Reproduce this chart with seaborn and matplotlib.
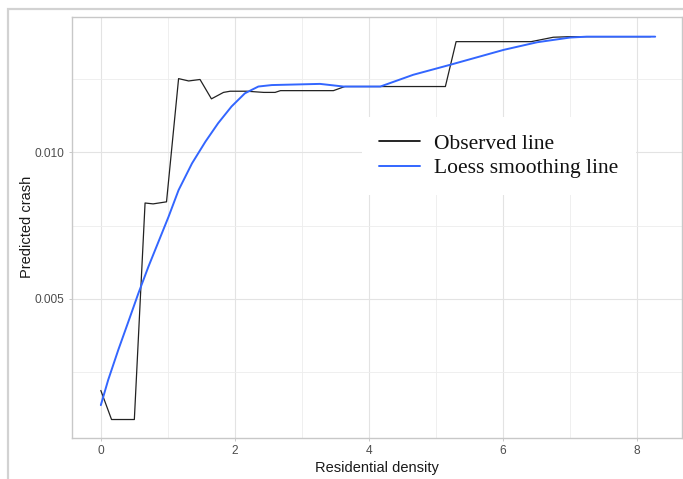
import matplotlib
matplotlib.use("Agg")
import matplotlib.pyplot as plt
from matplotlib.ticker import MultipleLocator, FormatStrFormatter
from matplotlib.patches import Rectangle
import numpy as np
import pandas as pd
import seaborn as sns

# Observed predicted-crash curve against residential density
observed_x = [0.00, 0.16, 0.50, 0.66, 0.78, 0.98, 1.16, 1.31, 1.48, 1.65, 1.83,
              1.93, 2.18, 2.43, 2.60, 2.68, 3.47, 3.64, 5.14, 5.30, 6.42, 6.75,
              7.00, 8.20]
observed_y = [0.00188, 0.00089, 0.00089, 0.00827, 0.00824, 0.00831, 0.01251,
              0.01243, 0.01248, 0.01182, 0.01204, 0.01208, 0.01208, 0.01204,
              0.01204, 0.01210, 0.01210, 0.01224, 0.01224, 0.01377, 0.01377,
              0.01392, 0.01394, 0.01394]

# Loess smoothed curve
loess_x = [0.00, 0.11, 0.26, 0.41, 0.56, 0.71, 0.86, 1.01, 1.16, 1.36, 1.56,
           1.75, 1.95, 2.15, 2.35, 2.55, 3.27, 3.62, 4.17, 4.66, 5.21, 6.01,
           6.51, 7.00, 7.25, 8.27]
loess_y = [0.00138, 0.00224, 0.00326, 0.00422, 0.00519, 0.00610, 0.00695,
           0.00780, 0.00871, 0.00962, 0.01036, 0.01099, 0.01156, 0.01201,
           0.01224, 0.01229, 0.01233, 0.01224, 0.01224, 0.01264, 0.01298,
           0.01349, 0.01375, 0.01391, 0.01394, 0.01394]

series_names = ["Observed line", "Loess smoothing line"]
series_colors = ["black", "#3366FF"]

x_ticks = [0, 2, 4, 6, 8]

df = pd.concat([
    pd.DataFrame({"x": observed_x, "y": observed_y, "series": series_names[0]}),
    pd.DataFrame({"x": loess_x, "y": loess_y, "series": series_names[1]}),
], ignore_index=True)

sns.set_theme(style="white")
plt.rcParams["font.family"] = ["Liberation Sans", "DejaVu Sans"]

fig = plt.figure(figsize=(6.83, 4.79), dpi=100)
ax = fig.add_axes([72 / 683, 1 - 437.5 / 479, 610 / 683, 420.5 / 479])

sns.lineplot(data=df, x="x", y="y", hue="series", hue_order=series_names,
             palette=dict(zip(series_names, series_colors)), sort=False,
             estimator=None, ax=ax, legend=False)
lines = ax.get_lines()
lines[0].set_linewidth(0.9)
lines[0].set_color("#222222")
lines[1].set_linewidth(1.4)
lines[1].set_solid_joinstyle("round")

ax.set_xlim(-0.43, 8.67)
ax.set_ylim(0.000277, 0.01461)

ax.xaxis.set_major_locator(plt.FixedLocator(x_ticks))
ax.xaxis.set_minor_locator(MultipleLocator(1))
ax.yaxis.set_major_locator(MultipleLocator(0.005))
ax.yaxis.set_minor_locator(MultipleLocator(0.0025))
ax.yaxis.set_major_formatter(FormatStrFormatter("%.3f"))

ax.grid(True, which="major", color="#E3E3E3", linewidth=0.8)
ax.grid(True, which="minor", color="#EDEDED", linewidth=0.6)
ax.set_axisbelow(True)

for sp in ax.spines.values():
    sp.set_color("#C8C8C8")
    sp.set_linewidth(1.0)

ax.tick_params(which="major", length=2.2, width=0.7, color="#C8C8C8",
               labelsize=8.6, labelcolor="#4D4D4D", pad=3.2,
               bottom=True, left=True)
ax.tick_params(which="minor", length=0)

ax.set_xlabel("Residential density", fontsize=10.5, color="#1A1A1A", labelpad=3)
ax.set_ylabel("Predicted crash", fontsize=10.5, color="#1A1A1A", labelpad=0.5)

handles = [plt.Line2D([], [], color=series_colors[0], linewidth=1.2),
           plt.Line2D([], [], color=series_colors[1], linewidth=1.4)]
leg = ax.legend(handles, series_names, loc="center",
                bbox_to_anchor=((499 - 72) / 610, (437.5 - 156) / 420.5),
                prop={"family": "Liberation Serif", "size": 15.5},
                frameon=True, facecolor="white", edgecolor="none",
                framealpha=1.0, fancybox=False, handlelength=1.9,
                handletextpad=0.65, borderpad=0.8, labelspacing=0.2)
for txt in leg.get_texts():
    txt.set_color("#111111")

# outer frame around the figure
fig.patches.append(Rectangle((8 / 683, -0.1), 1.2, 1.1 - 9 / 479,
                             transform=fig.transFigure, fill=False,
                             edgecolor="#D2D2D2", linewidth=1.6))

fig.savefig("out.png", dpi=100, facecolor="white")
